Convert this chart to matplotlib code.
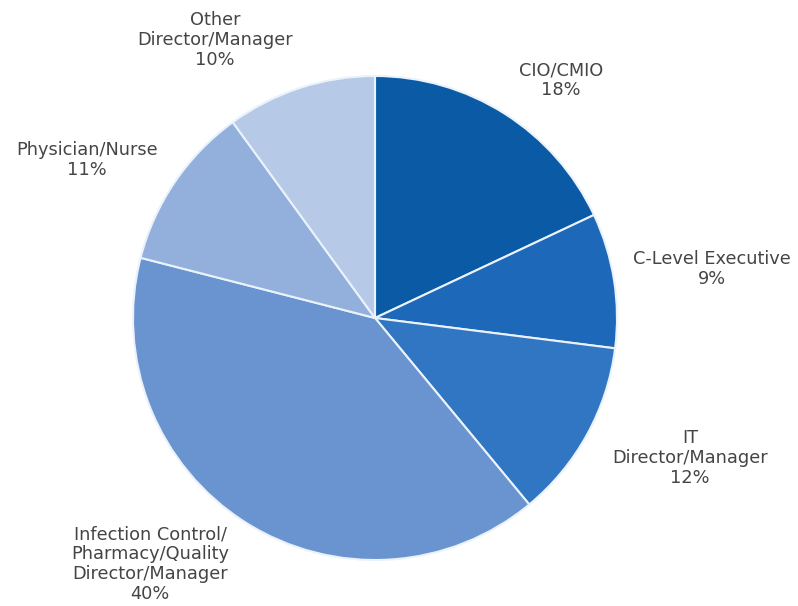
import matplotlib.pyplot as plt

# slice data, clockwise from 12 o'clock
labels = ["CIO/CMIO", "C-Level Executive", "IT\nDirector/Manager",
          "Infection Control/\nPharmacy/Quality\nDirector/Manager",
          "Physician/Nurse", "Other\nDirector/Manager"]
shares = [18, 9, 12, 40, 11, 10]
colors = ["#0b5aa6", "#1d68b8", "#3176c2", "#6a94cf", "#93b0dc", "#b6c9e7"]

# label anchor points in pixel space (x, y from top)
label_pos = [(561, 80), (712, 269), (690, 458), (150, 564), (87, 160), (215, 40)]

W, H = 798, 606
fig = plt.figure(figsize=(W / 100, H / 100), dpi=100)
ax = fig.add_axes([0, 0, 1, 1])

ax.pie(shares, colors=colors, startangle=90, counterclock=False,
       center=(375, H - 318), radius=242, frame=True,
       wedgeprops=dict(edgecolor="#eaf2fb", linewidth=1.5))
ax.set_xlim(0, W)
ax.set_ylim(0, H)
ax.set_aspect("equal")
ax.axis("off")

for lab, val, (x, y) in zip(labels, shares, label_pos):
    ax.text(x, H - y, f"{lab}\n{val}%", ha="center", va="center",
            fontsize=12.8, color="#454545", linespacing=1.12,
            family="DejaVu Sans")

fig.savefig("out.png", dpi=100)
